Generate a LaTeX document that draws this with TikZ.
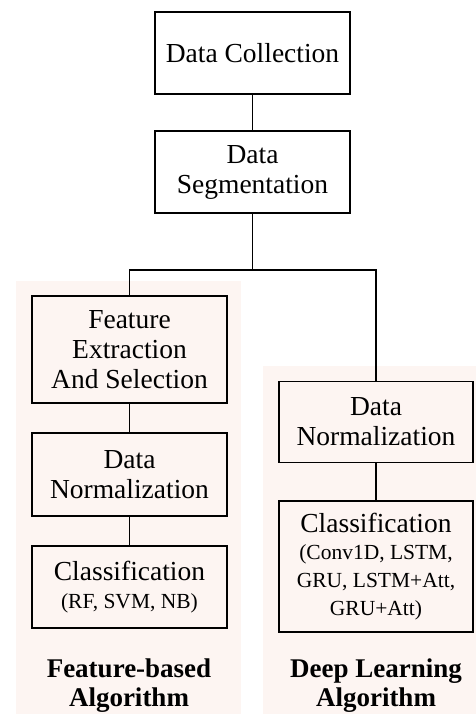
\documentclass[tikz,border=0pt]{standalone}
\usepackage{fontspec}
\setmainfont{Liberation Serif}
\usetikzlibrary{positioning}
\definecolor{panelpink}{RGB}{253,245,242}
\newcommand{\smallnote}{\fontsize{21.5}{25}\selectfont}
\tikzset{
  stage/.style={draw=black, line width=1.3pt, align=center, inner sep=0pt,
    minimum width=195pt, font=\fontsize{27.5}{30}\selectfont},
  panel/.style={fill=panelpink, draw=none},
  link/.style={draw=black, line width=1.3pt},
  caption/.style={align=center, font=\bfseries\fontsize{27}{29}\selectfont}
}
\begin{document}
\begin{tikzpicture}[x=1pt, y=-1pt]
\useasboundingbox (0,0) rectangle (476,714);
% shaded panels behind the two branches
\fill[panel] (16,281) rectangle (241,714);
\fill[panel] (263,366) rectangle (476,714);

% common trunk
\node[stage, minimum height=82pt, fill=white] (coll) at (252.5,53) {Data Collection};
\node[stage, minimum height=82pt, fill=white] (seg) at (252.5,172) {Data\\Segmentation};

% feature-based branch
\node[stage, minimum height=107pt, fill=panelpink] (feat) at (129.5,349.5) {Feature\\Extraction\\And Selection};
\node[stage, minimum height=83pt, fill=panelpink] (normL) at (129.5,474.5) {Data\\Normalization};
\node[stage, minimum height=82pt, fill=panelpink] (clsL) at (129.5,587) {Classification\\[-2pt]\smallnote (RF, SVM, NB)};
\node[caption] (capL) at (129,686) {Feature-based\\Algorithm};

% deep learning branch
\node[stage, minimum width=194pt, minimum height=81pt, fill=panelpink] (normR) at (376,422) {Data\\Normalization};
\node[stage, minimum width=194pt, minimum height=131pt, fill=panelpink] (clsR) at (376,566.5)
  {Classification\\[-3pt]\smallnote (Conv1D, LSTM,\\[-2pt]\smallnote GRU, LSTM+Att,\\[-2pt]\smallnote GRU+Att)};
\node[caption] (capR) at (376,686) {Deep Learning\\Algorithm};

% connectors
\coordinate (split) at (252.5,270);
\draw[link] (coll) -- (seg);
\draw[link] (seg) -- (split);
\draw[link] (split) -| (feat.north);
\draw[link] (split) -| (normR.north);
\draw[link] (feat) -- (normL);
\draw[link] (normL) -- (clsL);
\draw[link] (normR) -- (clsR);
\end{tikzpicture}
\end{document}
